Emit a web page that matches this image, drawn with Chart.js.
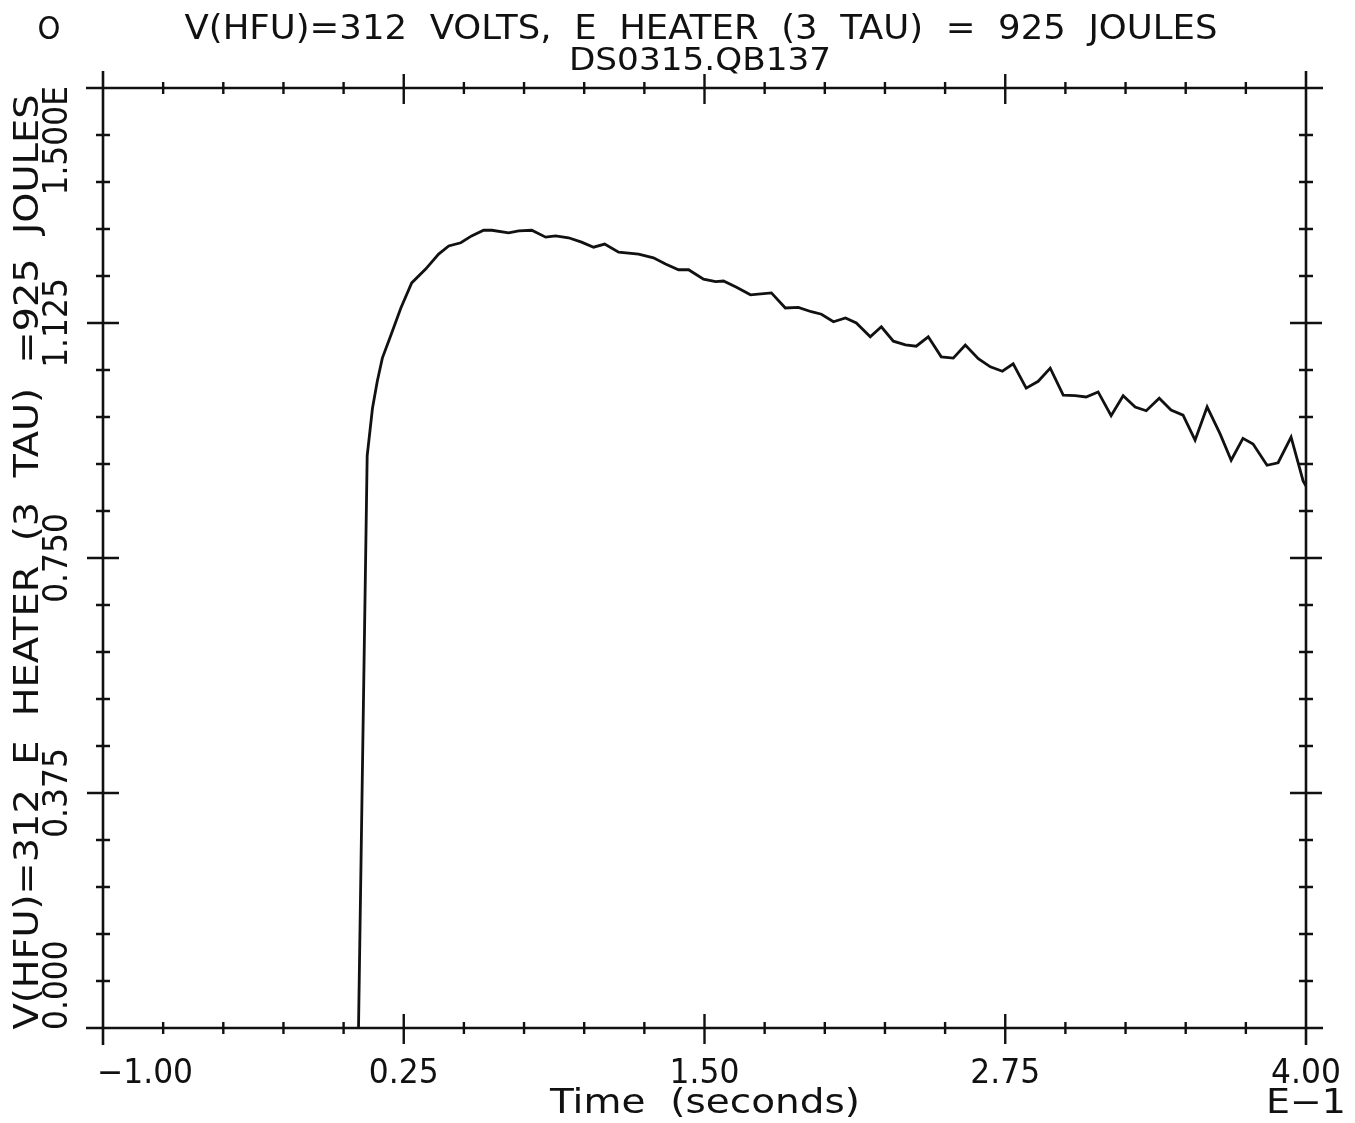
<!DOCTYPE html>
<html>
<head>
<meta charset="utf-8">
<script src="https://cdn.jsdelivr.net/npm/chart.js@4"></script>
<style>
html,body{margin:0;padding:0;background:#fff;}
#wrap{width:1355px;height:1123px;}
</style>
</head>
<body>
<div id="wrap"><canvas id="c" width="1355" height="1123"></canvas></div>
<script>
// ---- data (time axis in units of E-1 seconds, energy in E3 joules) ----
const timeValues = [0.062,0.098,0.120,0.140,0.161,0.198,0.238,0.283,0.341,0.395,0.437,0.487,0.532,0.582,0.616,0.686,0.728,0.782,0.840,0.881,0.935,0.989,1.039,1.085,1.143,1.226,1.288,1.338,1.392,1.434,1.496,1.546,1.579,1.633,1.691,1.778,1.836,1.890,1.944,1.986,2.036,2.086,2.131,2.189,2.235,2.285,2.335,2.380,2.430,2.484,2.534,2.584,2.638,2.688,2.738,2.783,2.837,2.887,2.937,2.991,3.041,3.086,3.136,3.190,3.240,3.290,3.336,3.390,3.439,3.489,3.539,3.589,3.643,3.689,3.738,3.780,3.838,3.884,3.938,3.988,4.000];
const energyValues = [0.000,0.913,0.989,1.032,1.069,1.107,1.149,1.189,1.211,1.235,1.248,1.253,1.264,1.273,1.273,1.269,1.272,1.273,1.262,1.264,1.261,1.254,1.246,1.251,1.238,1.235,1.229,1.219,1.210,1.210,1.195,1.191,1.192,1.182,1.170,1.173,1.149,1.150,1.143,1.139,1.127,1.133,1.125,1.103,1.119,1.096,1.090,1.088,1.103,1.071,1.069,1.090,1.068,1.055,1.048,1.060,1.021,1.032,1.053,1.010,1.009,1.007,1.015,0.977,1.009,0.991,0.985,1.005,0.986,0.978,0.938,0.991,0.948,0.906,0.941,0.932,0.898,0.902,0.943,0.873,0.865];
const xTickValues = [-1.00, 0.25, 1.50, 2.75, 4.00];
const xTickLabels = ['\u22121.00', '0.25', '1.50', '2.75', '4.00'];
const yTickValues = [0.000, 0.375, 0.750, 1.125, 1.500];
const yTickLabels = ['0.000', '0.375', '0.750', '1.125', '1.500E'];
const titleLine1 = 'V(HFU)=312  VOLTS,  E  HEATER  (3  TAU)  =  925  JOULES';
const titleLine2 = 'DS0315.QB137';
const xTitle = 'Time  (seconds)';
const xExponent = 'E\u22121';
const yTitle = 'V(HFU)=312  E  HEATER  (3  TAU)  =925  JOULES';
const cornerMark = 'O';

const points = timeValues.map((t, i) => ({x: t, y: energyValues[i]}));

const FONT = '"DejaVu Sans", "Liberation Sans", sans-serif';

function fitText(ctx, text, cx, cy, width, size, rot) {
  ctx.save();
  ctx.font = size + 'px ' + FONT;
  const w = ctx.measureText(text).width;
  const sx = width ? width / w : 1;
  ctx.translate(cx, cy);
  if (rot) ctx.rotate(rot);
  ctx.scale(sx, 1);
  ctx.textAlign = 'center';
  ctx.textBaseline = 'middle';
  ctx.fillStyle = '#111';
  ctx.fillText(text, 0, 0);
  ctx.restore();
  return w * sx;
}

const plotterAxes = {
  id: 'plotterAxes',
  afterDraw(chart) {
    const ctx = chart.ctx;
    const xs = chart.scales.x, ys = chart.scales.y;
    const L = xs.left, R = xs.right, T = ys.top, B = ys.bottom;
    const over = 17;
    ctx.save();
    ctx.strokeStyle = '#111';
    ctx.lineWidth = 2.6;
    ctx.lineCap = 'butt';
    ctx.beginPath();
    ctx.moveTo(L - over, B); ctx.lineTo(R + over, B);
    ctx.moveTo(L - over, T); ctx.lineTo(R + over, T);
    ctx.moveTo(L, T - over); ctx.lineTo(L, B + over);
    ctx.moveTo(R, T - over); ctx.lineTo(R, B + over);
    ctx.stroke();

    ctx.lineWidth = 2.4;
    ctx.beginPath();
    const xStep = xTickValues[1] - xTickValues[0];
    const yStep = yTickValues[1] - yTickValues[0];
    for (let i = 0; i < xTickValues.length; i++) {
      const v0 = xTickValues[i];
      const px = xs.getPixelForValue(v0);
      if (i > 0 && i < xTickValues.length - 1) {
        ctx.moveTo(px, B - 14); ctx.lineTo(px, B + 16);
        ctx.moveTo(px, T - 14); ctx.lineTo(px, T + 16);
      }
      if (i < xTickValues.length - 1) {
        for (let k = 1; k < 5; k++) {
          const p = xs.getPixelForValue(v0 + xStep * k / 5);
          ctx.moveTo(p, B - 6); ctx.lineTo(p, B + 6);
          ctx.moveTo(p, T - 6); ctx.lineTo(p, T + 6);
        }
      }
    }
    for (let i = 0; i < yTickValues.length; i++) {
      const v0 = yTickValues[i];
      const py = ys.getPixelForValue(v0);
      if (i > 0 && i < yTickValues.length - 1) {
        ctx.moveTo(L - 16, py); ctx.lineTo(L + 16, py);
        ctx.moveTo(R - 16, py); ctx.lineTo(R + 16, py);
      }
      if (i < yTickValues.length - 1) {
        for (let k = 1; k < 5; k++) {
          const p = ys.getPixelForValue(v0 + yStep * k / 5);
          ctx.moveTo(L - 7, p); ctx.lineTo(L + 7, p);
          ctx.moveTo(R - 7, p); ctx.lineTo(R + 7, p);
        }
      }
    }
    ctx.stroke();
    ctx.restore();

    const lblSize = 33;
    const lblScale = 0.95;
    xTickLabels.forEach((s, i) => {
      ctx.save();
      ctx.font = lblSize + 'px ' + FONT;
      const w = ctx.measureText(s).width * lblScale;
      ctx.restore();
      let cx = xs.getPixelForValue(xTickValues[i]);
      cx = Math.max(cx, L + w / 2 - 6);
      cx = Math.min(cx, R + 40 - w / 2);
      fitText(ctx, s, cx, 1074, w, lblSize, 0);
    });
    yTickLabels.forEach((s, i) => {
      ctx.save();
      ctx.font = lblSize + 'px ' + FONT;
      const w = ctx.measureText(s).width * lblScale;
      ctx.restore();
      let cy = ys.getPixelForValue(yTickValues[i]);
      cy = Math.min(cy, B - w / 2 + 2);
      cy = Math.max(cy, T + w / 2 - 2);
      fitText(ctx, s, 58, cy, w, lblSize, -Math.PI / 2);
    });

    fitText(ctx, titleLine1, 701, 30, 1033, 34, 0);
    fitText(ctx, titleLine2, 700, 62, 262, 32, 0);
    fitText(ctx, cornerMark, 49, 31, 23, 32, 0);
    fitText(ctx, xTitle, 705, 1104, 310, 33, 0);
    fitText(ctx, xExponent, 1306, 1104, 80, 33, 0);
    fitText(ctx, yTitle, 29, 562, 935, 34, -Math.PI / 2);
  }
};

new Chart(document.getElementById('c'), {
  type: 'line',
  data: {
    datasets: [{
      data: points,
      borderColor: '#111',
      borderWidth: 2.8,
      pointRadius: 0,
      tension: 0,
      fill: false
    }]
  },
  options: {
    responsive: false,
    animation: false,
    events: [],
    layout: {padding: {left: 103, right: 49, top: 88, bottom: 95}},
    plugins: {legend: {display: false}, title: {display: false}, tooltip: {enabled: false}},
    scales: {
      x: {type: 'linear', display: false, min: -1, max: 4},
      y: {type: 'linear', display: false, min: 0, max: 1.5}
    }
  },
  plugins: [plotterAxes]
});
</script>
</body>
</html>
